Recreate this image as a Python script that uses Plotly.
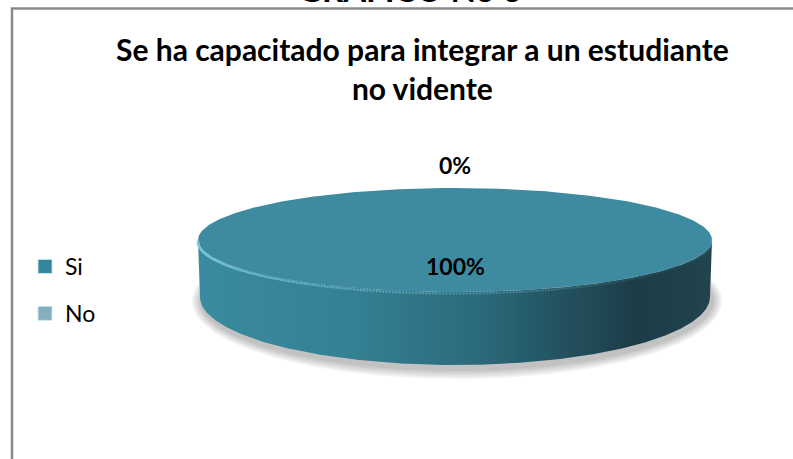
import numpy as np
import plotly.graph_objects as go

# data
categories = ["Si", "No"]
values = [100, 0]
slice_colors = ["#3E8BA1", "#7FAAB9"]
legend_colors = ["#34869C", "#86AFBE"]

title_text = "Se ha capacitado para integrar a un estudiante<br>no vidente"
page_heading = "GRÁFICO No 6"

W, H = 793, 459
FONT = "Lato, Open Sans, sans-serif"

# pie geometry (pixel space, y axis reversed)
CX, CY, RX, RY = 455, 240, 257, 52
BCY, BRX, BRY = 297, 255, 68


def top_pt(a):
    r = np.radians(a)
    return CX + RX * np.cos(r), CY - RY * np.sin(r)


def bot_pt(a):
    r = np.radians(a)
    return CX + BRX * np.cos(r), BCY - BRY * np.sin(r)


fig = go.Figure()

total = sum(values)
start = 90.0
slices = []
for cat, val, col in zip(categories, values, slice_colors):
    span = 360.0 * val / total
    slices.append((cat, val, col, start, start - span))
    start -= span

# soft shadow below the pie
for k in range(5):
    ang = np.linspace(0, 360, 200)
    sx = CX + 2 + (BRX + 2 + 2 * k) * np.cos(np.radians(ang))
    sy = BCY + 4 - (BRY + 2 + 2 * k) * np.sin(np.radians(ang))
    fig.add_trace(go.Scatter(x=sx, y=sy, fill="toself", mode="lines", line=dict(width=0),
                             fillcolor="rgba(0,0,0,0.05)", hoverinfo="skip", showlegend=False))

# side walls (front half only)
for cat, val, col, a0, a1 in slices:
    if val == 0:
        continue
    ang = np.linspace(a1, a0, 600)
    front = np.sort(ang[np.sin(np.radians(ang)) <= 0])
    if len(front) < 2:
        continue
    tx, ty = top_pt(front)
    bx, by = bot_pt(front[::-1])
    fig.add_trace(go.Scatter(
        x=np.concatenate([tx, bx]), y=np.concatenate([ty, by]),
        fill="toself", mode="lines", line=dict(width=0),
        fillgradient=dict(type="horizontal", colorscale=[
            [0.0, "#3A8B9F"], [0.3, "#348094"], [0.55, "#2B6A7A"],
            [0.85, "#1C3C47"], [1.0, "#21444F"]]),
        hoverinfo="skip", showlegend=False))

# top faces
for cat, val, col, a0, a1 in slices:
    if val == 0:
        continue
    ang = np.linspace(a0, a1, 400)
    tx, ty = top_pt(ang)
    if abs(a0 - a1) < 360:
        tx = np.concatenate([[CX], tx, [CX]])
        ty = np.concatenate([[CY], ty, [CY]])
    fig.add_trace(go.Scatter(x=tx, y=ty, fill="toself", mode="lines", line=dict(width=0),
                             fillcolor=col, hoverinfo="skip", showlegend=False))

# highlight rim on front top edge
rim = np.linspace(180, 360, 240)
rx_, ry_ = top_pt(rim)
alpha = np.clip(1.0 - (rim - 180) / 150, 0.05, 1.0)
fig.add_trace(go.Scatter(x=rx_, y=ry_ + 1.5, mode="markers",
                         marker=dict(size=2.5, color=[f"rgba(120,200,220,{a:.2f})" for a in alpha]),
                         hoverinfo="skip", showlegend=False))

# data labels
for cat, val, col, a0, a1 in slices:
    mid = (a0 + a1) / 2
    f = 0.5 if val == total else 1.45
    lx = CX + f * RX * np.cos(np.radians(mid))
    ly = CY - f * RY * np.sin(np.radians(mid))
    fig.add_annotation(x=lx, y=ly, text=f"<b>{val / total * 100:.0f}%</b>", showarrow=False,
                       font=dict(family=FONT, size=23, color="black"))

# legend entries
for cat, lc in zip(categories, legend_colors):
    fig.add_trace(go.Scatter(x=[None], y=[None], mode="markers", name=cat, legendgroup=cat,
                             marker=dict(symbol="square", size=14, color=lc,
                                         line=dict(color="rgba(200,235,245,0.8)", width=1))))

# heading of the page, mostly cut off at the top
fig.add_annotation(x=410, y=11.5, yanchor="bottom", text=f"<b>{page_heading}</b>", showarrow=False,
                   font=dict(family=FONT, size=33, color="black"))

# chart title
fig.add_annotation(x=422, y=68, yanchor="middle", text=f"<b>{title_text}</b>", showarrow=False,
                   font=dict(family=FONT, size=30, color="black"))

fig.add_shape(type="rect", x0=12, y0=8.5, x1=820, y1=480, line=dict(color="#8A8A8A", width=2.5))

fig.update_layout(
    width=W, height=H,
    margin=dict(l=0, r=0, t=0, b=0),
    paper_bgcolor="white", plot_bgcolor="white",
    xaxis=dict(range=[0, W], visible=False, fixedrange=True),
    yaxis=dict(range=[H, 0], visible=False, fixedrange=True),
    legend=dict(x=25 / W, y=1 - 245 / H, xanchor="left", yanchor="top", tracegroupgap=14,
                font=dict(family=FONT, size=23, color="black"), bgcolor="rgba(0,0,0,0)"),
    showlegend=True,
)

fig.write_html("out.html", config={"displayModeBar": False},
               post_script="document.body.style.margin='0';")
